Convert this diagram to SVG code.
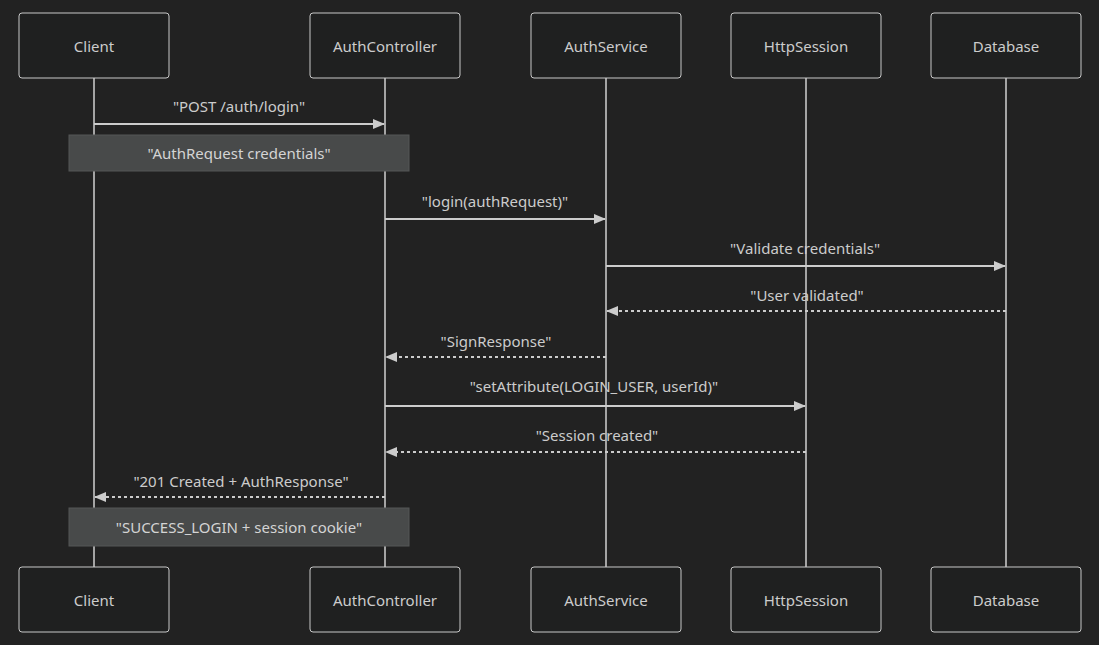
<svg xmlns="http://www.w3.org/2000/svg" width="1099" height="645" viewBox="0 0 1099 645">
<defs>
<style>
.bg{fill:#222222}
.actor{fill:#1f2020;stroke:#c8c8c8;stroke-width:1}
.life{stroke:#d0d0d0;stroke-width:1.5}
.msg{stroke:#cccccc;stroke-width:2;fill:none}
.dash{stroke-dasharray:3 3}
.note{fill:#484a4a;stroke:#555757;stroke-width:1}
text{font-family:"Noto Sans","Open Sans","DejaVu Sans",sans-serif;font-size:15px;fill:#cccccc;text-anchor:middle;dominant-baseline:central}
.lbl{fill:#d4d4d4}
</style>
<marker id="ah" markerWidth="12" markerHeight="12" refX="11" refY="6" orient="auto" markerUnits="userSpaceOnUse">
<path d="M0,1 L12,6 L0,11 Z" fill="#cccccc"/>
</marker>
</defs>
<rect class="bg" x="0" y="0" width="1099" height="645"/>

<g id="lifelines">
<line class="life" x1="94" y1="78" x2="94" y2="567"/>
<line class="life" x1="385" y1="78" x2="385" y2="567"/>
<line class="life" x1="606" y1="78" x2="606" y2="567"/>
<line class="life" x1="806" y1="78" x2="806" y2="567"/>
<line class="life" x1="1006" y1="78" x2="1006" y2="567"/>
</g>

<g id="connectors">
<g id="m1"><text x="239" y="106">"POST /auth/login"</text><line class="msg" x1="94" y1="124" x2="384" y2="124" marker-end="url(#ah)"/></g>
<g id="m2"><text x="495" y="201">"login(authRequest)"</text><line class="msg" x1="385" y1="219" x2="605" y2="219" marker-end="url(#ah)"/></g>
<g id="m3"><text x="805" y="248">"Validate credentials"</text><line class="msg" x1="606" y1="266" x2="1005" y2="266" marker-end="url(#ah)"/></g>
<g id="m4"><text x="807" y="295">"User validated"</text><line class="msg dash" x1="1006" y1="311" x2="607" y2="311" marker-end="url(#ah)"/></g>
<g id="m5"><text x="496" y="341">"SignResponse"</text><line class="msg dash" x1="606" y1="357" x2="386" y2="357" marker-end="url(#ah)"/></g>
<g id="m6"><text x="594" y="386">"setAttribute(LOGIN_USER, userId)"</text><line class="msg" x1="385" y1="406" x2="805" y2="406" marker-end="url(#ah)"/></g>
<g id="m7"><text x="597" y="435">"Session created"</text><line class="msg dash" x1="806" y1="452" x2="386" y2="452" marker-end="url(#ah)"/></g>
<g id="m8"><text x="241" y="481">"201 Created + AuthResponse"</text><line class="msg dash" x1="385" y1="497" x2="95" y2="497" marker-end="url(#ah)"/></g>
</g>

<g id="note1"><rect class="note" x="69" y="135" width="340" height="36"/><text class="lbl" x="239" y="153">"AuthRequest credentials"</text></g>
<g id="note2"><rect class="note" x="69" y="508" width="340" height="38"/><text class="lbl" x="239" y="527">"SUCCESS_LOGIN + session cookie"</text></g>

<g id="client-top"><rect class="actor" x="19" y="13" width="150" height="65" rx="3"/><text x="94" y="46">Client</text></g>
<g id="authcontroller-top"><rect class="actor" x="310" y="13" width="150" height="65" rx="3"/><text x="385" y="46">AuthController</text></g>
<g id="authservice-top"><rect class="actor" x="531" y="13" width="150" height="65" rx="3"/><text x="606" y="46">AuthService</text></g>
<g id="httpsession-top"><rect class="actor" x="731" y="13" width="150" height="65" rx="3"/><text x="806" y="46">HttpSession</text></g>
<g id="database-top"><rect class="actor" x="931" y="13" width="150" height="65" rx="3"/><text x="1006" y="46">Database</text></g>

<g id="client-bottom"><rect class="actor" x="19" y="567" width="150" height="65" rx="3"/><text x="94" y="600">Client</text></g>
<g id="authcontroller-bottom"><rect class="actor" x="310" y="567" width="150" height="65" rx="3"/><text x="385" y="600">AuthController</text></g>
<g id="authservice-bottom"><rect class="actor" x="531" y="567" width="150" height="65" rx="3"/><text x="606" y="600">AuthService</text></g>
<g id="httpsession-bottom"><rect class="actor" x="731" y="567" width="150" height="65" rx="3"/><text x="806" y="600">HttpSession</text></g>
<g id="database-bottom"><rect class="actor" x="931" y="567" width="150" height="65" rx="3"/><text x="1006" y="600">Database</text></g>
</svg>
